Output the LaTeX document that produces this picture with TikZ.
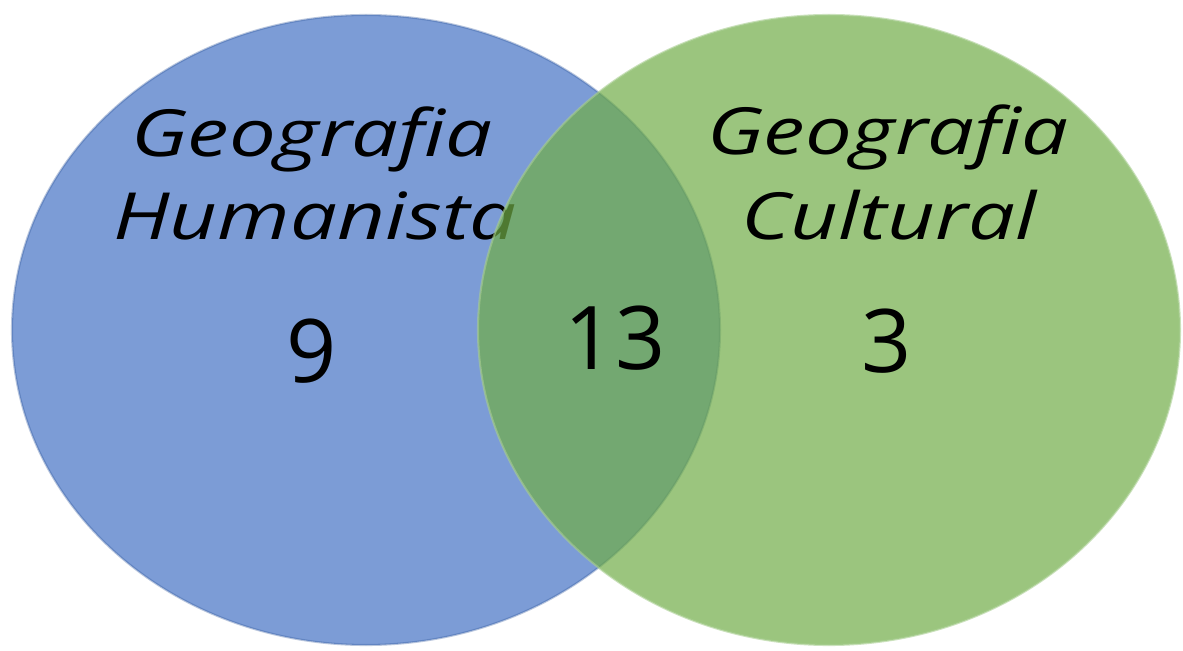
\documentclass[tikz,border=0pt]{standalone}
\usepackage{fontspec}
\newfontfamily\vennfont{Open Sans}
\newfontfamily\vennitfont{Open Sans Italic}[FakeStretch=1.28]
\usetikzlibrary{positioning}

\definecolor{officeblue}{HTML}{4472C4}
\definecolor{officegreen}{HTML}{70AD47}

\begin{document}
\begin{tikzpicture}
    [
        x=0.02cm, y=-0.02cm,
        setblue/.style={fill=officeblue, fill opacity=0.7, draw=officeblue!80!black, draw opacity=0.35, line width=1.2pt},
        setgreen/.style={fill=officegreen, fill opacity=0.7, draw=officegreen!60!white, draw opacity=0.6, line width=1.2pt},
        setname/.style={anchor=base, inner sep=0pt, font=\vennitfont\fontsize{37}{44}\selectfont},
        count/.style={anchor=base, inner sep=0pt, font=\vennfont\fontsize{50}{60}\selectfont}
    ]
        \useasboundingbox (0,0) rectangle (1183,651);
        % =========================================================================
        % LEFT SET (its name lies partly under the right set)
        % =========================================================================
        \path [setblue] (366,330) ellipse [x radius=354, y radius=315];
        \node [setname] (geoHum1) at (312,157) {Geografia};
        \node [setname] (geoHum2) at (315,240) {Humanista};

        % =========================================================================
        % RIGHT SET
        % =========================================================================
        \path [setgreen] (829,330) ellipse [x radius=351, y radius=315];
        \node [setname] (geoCul1) at (888,155) {Geografia};
        \node [setname] (geoCul2) at (889,240) {Cultural};

        % --- Counts ---
        \node [count] (numHum) at (312,383) {9};
        \node [count] (numBoth) at (615,370) {13};
        \node [count] (numCul) at (887,373) {3};

    \end{tikzpicture}
\end{document}
